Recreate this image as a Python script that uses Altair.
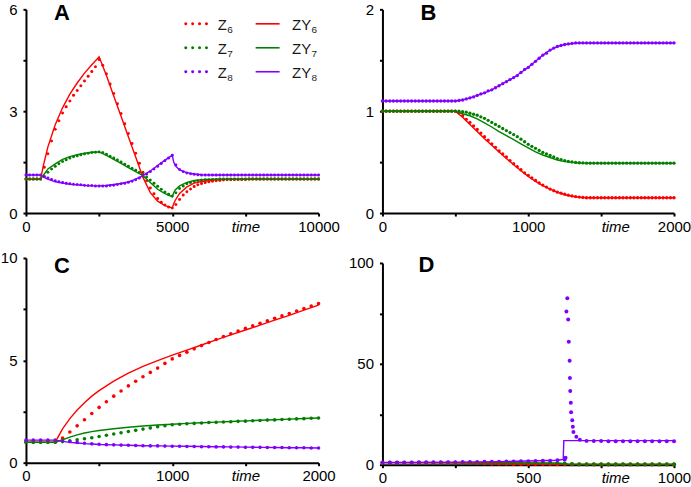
import altair as alt
import pandas as pd

FONT = "Liberation Sans"
NAMES = ["Z6", "Z7", "Z8", "ZY6", "ZY7", "ZY8"]
PALETTE = ["#ff0000", "#008000", "#8000ff", "#ff0000", "#008000", "#8000ff"]

# ---------------- Panel A ----------------
A_T_DOT = [0, 125, 250, 375, 500, 625, 750, 875, 1000, 1125, 1250, 1375, 1500, 1625,
           1750, 1875, 2000, 2125, 2250, 2375, 2500, 2625, 2750, 2875, 3000, 3125, 3250,
           3375, 3500, 3625, 3750, 3875, 4000, 4125, 4250, 4375, 4500, 4625, 4750, 4875,
           5000, 5125, 5250, 5375, 5500, 5625, 5750, 5875, 6000, 6125, 6250, 6375, 6500,
           6625, 6750, 6875, 7000, 7125, 7250, 7375, 7500, 7625, 7750, 7875, 8000, 8125,
           8250, 8375, 8500, 8625, 8750, 8875, 9000, 9125, 9250, 9375, 9500, 9625, 9750,
           9875, 10000]
A_Z6 = [1.0, 1.0, 1.0, 1.0, 1.0,
        1.35, 1.75, 2.12, 2.47, 2.72, 2.95, 3.13, 3.3, 3.47, 3.61, 3.75, 3.89, 4.03, 4.17, 4.31, 4.52,
        4.35, 4.1, 3.8, 3.52, 3.22, 2.93, 2.63, 2.34, 2.05, 1.76, 1.47, 1.2, 0.95, 0.74, 0.57, 0.43,
        0.32, 0.24, 0.18, 0.15,
        0.25, 0.4, 0.53, 0.63, 0.71, 0.78, 0.83, 0.87, 0.9, 0.92, 0.94, 0.95, 0.96, 0.97, 0.98, 0.98,
        0.99, 0.99, 0.99, 0.99,
        1.0, 1.0, 1.0, 1.0, 1.0, 1.0, 1.0, 1.0, 1.0, 1.0, 1.0, 1.0, 1.0, 1.0, 1.0, 1.0, 1.0, 1.0,
        1.0, 1.0]
A_Z7 = [1.0, 1.0, 1.0, 1.0, 1.0,
        1.08, 1.2, 1.3, 1.38, 1.45, 1.52, 1.57, 1.62, 1.66, 1.69, 1.72, 1.74, 1.76, 1.78, 1.79, 1.8,
        1.78, 1.73, 1.67, 1.62, 1.56, 1.5, 1.44, 1.38, 1.32, 1.26, 1.2, 1.14, 1.06, 0.97, 0.88, 0.79,
        0.7, 0.62, 0.55, 0.5,
        0.6, 0.72, 0.8, 0.86, 0.9, 0.93, 0.95, 0.97, 0.98, 0.98, 0.99, 0.99, 1.0, 1.0, 1.0, 1.0,
        1.0, 1.0, 1.0, 1.0,
        1.0, 1.0, 1.0, 1.0, 1.0, 1.0, 1.0, 1.0, 1.0, 1.0, 1.0, 1.0, 1.0, 1.0, 1.0, 1.0, 1.0, 1.0,
        1.0, 1.0]
A_Z8 = [1.12, 1.12, 1.12, 1.12, 1.12,
        1.08, 1.03, 0.99, 0.95, 0.92, 0.9, 0.88, 0.86, 0.85, 0.84, 0.83, 0.82, 0.81, 0.81, 0.8, 0.8,
        0.8, 0.8, 0.81, 0.82, 0.84, 0.86, 0.88, 0.91, 0.94, 0.98, 1.03, 1.08, 1.15, 1.22, 1.3, 1.38,
        1.46, 1.54, 1.62, 1.7,
        1.42, 1.28, 1.22, 1.18, 1.16, 1.14, 1.13, 1.12, 1.12, 1.12, 1.12, 1.12, 1.12, 1.12, 1.12,
        1.12, 1.12, 1.12, 1.12, 1.12,
        1.12, 1.12, 1.12, 1.12, 1.12, 1.12, 1.12, 1.12, 1.12, 1.12, 1.12, 1.12, 1.12, 1.12, 1.12,
        1.12, 1.12, 1.12, 1.12, 1.12]
A_T_LINE = [0, 500, 600, 750, 1000, 1250, 1500, 1750, 2000, 2250, 2500, 2750, 3000, 3250, 3500,
            3750, 4000, 4250, 4500, 4750, 5000, 5050, 5100, 5250, 5500, 5750, 6000, 6500, 7000,
            8000, 10000]
A_ZY6 = [1.0, 1.0, 1.42, 1.95, 2.6, 3.1, 3.5, 3.83, 4.12, 4.37, 4.6, 4.05, 3.45, 2.85, 2.25,
         1.65, 1.05, 0.6, 0.35, 0.22, 0.15, 0.27, 0.37, 0.58, 0.77, 0.88, 0.93, 0.98, 1.0, 1.0, 1.0]
A_ZY7 = [1.0, 1.0, 1.12, 1.3, 1.45, 1.58, 1.66, 1.72, 1.76, 1.79, 1.8, 1.7, 1.58, 1.46, 1.34,
         1.22, 1.1, 0.9, 0.7, 0.57, 0.48, 0.6, 0.68, 0.8, 0.9, 0.96, 0.98, 1.0, 1.0, 1.0, 1.0]
A_ZY8 = [1.12, 1.12, 1.06, 1.0, 0.92, 0.88, 0.85, 0.83, 0.81, 0.8, 0.8, 0.81, 0.84, 0.87, 0.92,
         1.0, 1.1, 1.24, 1.4, 1.56, 1.7, 1.5, 1.4, 1.27, 1.19, 1.15, 1.13, 1.12, 1.12, 1.12, 1.12]

# ---------------- Panel B ----------------
B_T_DOT = [0, 25, 50, 75, 100, 125, 150, 175, 200, 225, 250, 275, 300, 325, 350, 375, 400, 425,
           450, 475, 500, 525, 550, 575, 600, 625, 650, 675, 700, 725, 750, 775, 800, 825, 850,
           875, 900, 925, 950, 975, 1000, 1025, 1050, 1075, 1100, 1125, 1150, 1175, 1200, 1225,
           1250, 1275, 1300, 1325, 1350, 1375, 1400, 1425, 1450, 1475, 1500, 1525, 1550, 1575,
           1600, 1625, 1650, 1675, 1700, 1725, 1750, 1775, 1800, 1825, 1850, 1875, 1900, 1925,
           1950, 1975, 2000]
B_Z6 = [1.0, 1.0, 1.0, 1.0, 1.0, 1.0, 1.0, 1.0, 1.0, 1.0, 1.0, 1.0, 1.0, 1.0, 1.0, 1.0, 1.0,
        1.0, 1.0, 1.0, 1.0,
        0.985, 0.955, 0.92, 0.89, 0.855, 0.82, 0.785, 0.75, 0.715, 0.68, 0.645, 0.61, 0.58, 0.55,
        0.515, 0.485, 0.455, 0.425, 0.395, 0.37, 0.345, 0.32, 0.295, 0.275, 0.255, 0.235, 0.22,
        0.205, 0.195, 0.185, 0.175, 0.168, 0.162, 0.157, 0.153,
        0.15, 0.15, 0.15, 0.15, 0.15, 0.15, 0.15, 0.15, 0.15, 0.15, 0.15, 0.15, 0.15, 0.15, 0.15,
        0.15, 0.15, 0.15, 0.15, 0.15, 0.15, 0.15, 0.15, 0.15, 0.15]
B_Z7 = [1.0, 1.0, 1.0, 1.0, 1.0, 1.0, 1.0, 1.0, 1.0, 1.0, 1.0, 1.0, 1.0, 1.0, 1.0, 1.0, 1.0,
        1.0, 1.0, 1.0, 1.0, 1.0,
        0.995, 0.99, 0.98, 0.97, 0.96, 0.945, 0.93, 0.91, 0.89, 0.87, 0.85, 0.83, 0.81, 0.79, 0.77,
        0.75, 0.725, 0.7, 0.675, 0.655, 0.635, 0.615, 0.595, 0.58, 0.565, 0.55, 0.535, 0.525,
        0.515, 0.508, 0.502, 0.497, 0.494, 0.492,
        0.49, 0.49, 0.49, 0.49, 0.49, 0.49, 0.49, 0.49, 0.49, 0.49, 0.49, 0.49, 0.49, 0.49, 0.49,
        0.49, 0.49, 0.49, 0.49, 0.49, 0.49, 0.49, 0.49, 0.49, 0.49]
B_Z8 = [1.1, 1.1, 1.1, 1.1, 1.1, 1.1, 1.1, 1.1, 1.1, 1.1, 1.1, 1.1, 1.1, 1.1, 1.1, 1.1, 1.1,
        1.1, 1.1, 1.1, 1.1,
        1.105, 1.11, 1.12, 1.13, 1.14, 1.155, 1.17, 1.18, 1.2, 1.21, 1.23, 1.25, 1.27, 1.29, 1.31,
        1.33, 1.35, 1.38, 1.41, 1.43, 1.46, 1.49, 1.52, 1.55, 1.57, 1.6, 1.62, 1.635, 1.645,
        1.655, 1.66, 1.665,
        1.67, 1.67, 1.67, 1.67, 1.67, 1.67, 1.67, 1.67, 1.67, 1.67, 1.67, 1.67, 1.67, 1.67, 1.67,
        1.67, 1.67, 1.67, 1.67, 1.67, 1.67, 1.67, 1.67, 1.67, 1.67, 1.67, 1.67, 1.67]
B_T_LINE = [0, 500, 550, 600, 650, 700, 750, 800, 850, 900, 950, 1000, 1050, 1100, 1150, 1200,
            1250, 1300, 1350, 1400, 2000]
B_ZY6 = [1.0, 1.0, 0.94, 0.87, 0.8, 0.73, 0.665, 0.6, 0.535, 0.475, 0.415, 0.36, 0.31, 0.27,
         0.235, 0.205, 0.18, 0.165, 0.155, 0.15, 0.15]
B_ZY7 = [1.0, 1.0, 0.975, 0.955, 0.925, 0.885, 0.845, 0.8, 0.76, 0.72, 0.68, 0.64, 0.6, 0.57,
         0.545, 0.52, 0.505, 0.497, 0.492, 0.49, 0.49]
B_ZY8 = [1.1, 1.1, 1.11, 1.13, 1.155, 1.18, 1.21, 1.25, 1.29, 1.33, 1.38, 1.43, 1.49, 1.55, 1.6,
         1.635, 1.655, 1.665, 1.67, 1.67, 1.67]

# ---------------- Panel C ----------------
C_T_DOT = [0, 50, 100, 150, 200, 250, 300, 350, 400, 450, 500, 550, 600, 650, 700, 750, 800,
           850, 900, 950, 1000, 1050, 1100, 1150, 1200, 1250, 1300, 1350, 1400, 1450, 1500, 1550,
           1600, 1650, 1700, 1750, 1800, 1850, 1900, 1950, 2000]
C_Z6 = [1.0, 1.0, 1.0, 1.0, 1.0,
        1.2, 1.5, 1.8, 2.1, 2.4, 2.7, 2.98, 3.25, 3.5, 3.75, 3.98, 4.2, 4.41, 4.62, 4.85, 5.07,
        5.24, 5.4, 5.56, 5.72, 5.87, 6.02, 6.16, 6.3, 6.43, 6.56, 6.69, 6.81, 6.93, 7.05, 7.17,
        7.29, 7.41, 7.53, 7.65, 7.77]
C_Z7 = [1.0, 1.0, 1.0, 1.0, 1.0,
        1.03, 1.07, 1.12, 1.17, 1.22, 1.28, 1.34, 1.4, 1.46, 1.52, 1.58, 1.64, 1.7, 1.76, 1.81,
        1.85, 1.88, 1.9, 1.92, 1.94, 1.96, 1.97, 1.99, 2.0, 2.02, 2.03, 2.05, 2.06, 2.08, 2.09,
        2.11, 2.12, 2.14, 2.15, 2.17, 2.18]
C_Z8 = [1.1, 1.1, 1.1, 1.1, 1.1,
        1.07, 1.03, 0.99, 0.95, 0.92, 0.9, 0.88, 0.87, 0.86, 0.85, 0.84, 0.83, 0.82, 0.82, 0.81,
        0.8, 0.8, 0.79, 0.79, 0.78, 0.78, 0.77, 0.77, 0.76, 0.76, 0.75, 0.75, 0.75, 0.74, 0.74,
        0.74, 0.73, 0.73, 0.73, 0.72, 0.72]
C_T_LINE = [0, 200, 250, 300, 350, 400, 450, 500, 600, 700, 800, 900, 1000, 1100, 1200, 1300,
            1400, 1500, 1600, 1700, 1800, 1900, 2000]
C_ZY6 = [1.0, 1.0, 1.65, 2.15, 2.57, 2.93, 3.25, 3.52, 3.98, 4.37, 4.7, 4.99, 5.25, 5.5, 5.75,
         6.0, 6.24, 6.48, 6.72, 6.96, 7.2, 7.45, 7.7]
C_ZY7 = [1.0, 1.0, 1.12, 1.25, 1.36, 1.45, 1.52, 1.57, 1.66, 1.73, 1.79, 1.84, 1.88, 1.92, 1.95,
         1.98, 2.01, 2.04, 2.07, 2.1, 2.13, 2.16, 2.18]
C_ZY8 = [1.1, 1.1, 1.04, 0.99, 0.96, 0.93, 0.91, 0.89, 0.87, 0.85, 0.83, 0.82, 0.81, 0.8, 0.79,
         0.78, 0.77, 0.76, 0.75, 0.74, 0.73, 0.73, 0.72]

# ---------------- Panel D ----------------
D_T_DOT = [0, 25, 50, 75, 100, 125, 150, 175, 200, 225, 250, 275, 300, 325, 350, 375, 400, 425,
           450, 475, 500, 525, 550, 575, 600, 625, 650, 675, 700, 725, 750, 775, 800, 825, 850,
           875, 900, 925, 950, 975, 1000]
D_Z6 = [1.0, 1.0, 1.0, 1.0, 1.0, 1.0, 1.0, 1.0, 1.0, 1.0, 1.0,
        0.9, 0.8, 0.7, 0.6, 0.5, 0.45, 0.4, 0.38, 0.36, 0.34, 0.32, 0.3, 0.28, 0.26, 0.24, 0.15,
        0.1, 0.1, 0.1, 0.1, 0.1, 0.1, 0.1, 0.1, 0.1, 0.1, 0.1, 0.1, 0.1, 0.1]
D_Z7 = [1.0, 1.0, 1.0, 1.0, 1.0, 1.0, 1.0, 1.0, 1.0, 1.0, 1.0, 1.0, 1.0, 1.0, 1.0, 1.0, 1.0,
        1.0, 1.0, 1.0, 1.0,
        0.9, 0.8, 0.7, 0.6, 0.5, 0.3,
        0.2, 0.2, 0.2, 0.2, 0.2, 0.2, 0.2, 0.2, 0.2, 0.2, 0.2, 0.2, 0.2, 0.2]
D_T_Z8 = [0, 25, 50, 75, 100, 125, 150, 175, 200, 225, 250, 275, 300, 325, 350, 375, 400, 425,
          450, 475, 500, 525, 550, 575, 600, 625,
          628, 631, 634, 637, 639, 642, 643, 644, 646, 647, 651, 653, 655, 665, 677,
          700, 725, 750, 775, 800, 825, 850, 875, 900, 925, 950, 975, 1000]
D_Z8 = [1.1, 1.1, 1.1, 1.1, 1.1, 1.15, 1.15, 1.2, 1.2, 1.25, 1.25, 1.3, 1.3, 1.35, 1.4, 1.45,
        1.5, 1.55, 1.6, 1.65, 1.7, 1.8, 1.9, 2.0, 2.2, 2.5,
        3.4, 76.0, 82.5, 72.0, 61.0, 51.5, 43.0, 36.5, 30.7, 26.0, 22.0, 18.8, 16.2, 13.9, 12.3,
        11.8, 11.7, 11.7, 11.6, 11.6, 11.6, 11.6, 11.6, 11.6, 11.6, 11.6, 11.6, 11.6]
D_T_LINE = [0, 250, 400, 600, 620, 622, 640, 700, 1000]
D_ZY6 = [1.0, 0.8, 0.5, 0.35, 0.3, 0.3, 0.15, 0.1, 0.1]
D_ZY7 = [1.0, 1.0, 1.0, 0.8, 0.6, 0.6, 0.3, 0.2, 0.2]
D_ZY8 = [1.1, 1.25, 1.5, 2.2, 2.6, 11.9, 11.9, 11.9, 11.9]

ONE_ROW = pd.DataFrame({"k": [0]})
COLOR_SCALE = alt.Scale(domain=NAMES, range=PALETTE)


def frame(parts):
    return pd.concat(
        [pd.DataFrame({"t": t, "v": v, "s": name}) for name, t, v in parts],
        ignore_index=True,
    )


def label_text(txt, x, y, size, weight="normal", color="black", align="left"):
    return alt.Chart(ONE_ROW).mark_text(
        text=txt, font=FONT, fontSize=size, fontWeight=weight, color=color,
        align=align, baseline="alphabetic",
    ).encode(x=alt.value(x), y=alt.value(y))


def legend_layers():
    layers = []
    y0, dy = 14.5, 24
    for i in range(3):
        dot_name, line_name = NAMES[i], NAMES[i + 3]
        col = PALETTE[i]
        cy = y0 + dy * i
        layers.append(
            alt.Chart(ONE_ROW).mark_rule(
                color=col, strokeWidth=3, strokeCap="round", strokeDash=[0.1, 6.8]
            ).encode(x=alt.value(160), x2=alt.value(182), y=alt.value(cy))
        )
        layers.append(label_text(dot_name[:-1], 192, cy + 6.5, 15, color="#1a1a1a"))
        layers.append(label_text(dot_name[-1], 201.5, cy + 9.5, 10, color="#1a1a1a"))
        layers.append(
            alt.Chart(ONE_ROW).mark_rule(color=col, strokeWidth=1.6).encode(
                x=alt.value(230), x2=alt.value(254), y=alt.value(cy)
            )
        )
        layers.append(label_text(line_name[:-1], 266.5, cy + 6.5, 15, color="#1a1a1a"))
        layers.append(label_text(line_name[-1], 286, cy + 9.5, 10, color="#1a1a1a"))
    return layers


def panel(letter, letter_xy, dots, lines, xdom, xticks, xlabels, time_tick, time_align,
          ydom, yticks, ylabels, dot_size, w, h, y_top=0, legend=False):
    x_expr = (f"datum.value == {time_tick} ? 'time' : "
              f"(indexof({xlabels}, datum.value) >= 0 ? datum.label : '')")
    y_expr = f"indexof({ylabels}, datum.value) >= 0 ? datum.label : ''"
    is_time = f"datum.value == {time_tick}"
    xaxis = alt.Axis(
        values=xticks, format="d", labelExpr=x_expr, title=None, grid=False,
        labelFlush=False, labelOverlap=False, labelPadding=3, tickSize=3,
        labelFontStyle={"condition": {"test": is_time, "value": "italic"}, "value": "normal"},
        labelAlign={"condition": {"test": is_time, "value": time_align}, "value": "center"},
    )
    yaxis = alt.Axis(
        values=yticks, format=".2~f", labelExpr=y_expr, title=None, grid=False,
        labelFlush=False, labelOverlap=False, labelPadding=6, tickSize=3,
    )
    x = alt.X("t:Q", scale=alt.Scale(domain=xdom, nice=False, zero=False), axis=xaxis)
    y = alt.Y("v:Q", scale=alt.Scale(domain=ydom, nice=False, zero=False, range=[h, y_top]),
              axis=yaxis)
    color = alt.Color("s:N", scale=COLOR_SCALE, legend=None)

    dot_layer = alt.Chart(frame(dots)).mark_circle(size=dot_size, opacity=1).encode(
        x=x, y=y, color=color
    )
    line_layer = alt.Chart(frame(lines)).mark_line(strokeWidth=1.4).encode(
        x=x, y=y, color=color, detail="s:N"
    )
    layers = [dot_layer, line_layer,
              label_text(letter, letter_xy[0], letter_xy[1], 22, weight="bold", align="center")]
    if legend:
        layers += legend_layers()
    return alt.layer(*layers).properties(width=w, height=h)


pa = panel(
    "A", (36, 11),
    [("Z6", A_T_DOT, A_Z6), ("Z7", A_T_DOT, A_Z7), ("Z8", A_T_DOT, A_Z8)],
    [("ZY6", A_T_LINE, A_ZY6), ("ZY7", A_T_LINE, A_ZY7), ("ZY8", A_T_LINE, A_ZY8)],
    [0, 10000], [0, 2500, 5000, 7500, 10000], [0, 5000, 10000], 7500, "center",
    [0, 6], [0, 1.5, 3, 4.5, 6], [0, 3, 6], 9, 293, 204, legend=True,
)
pb = panel(
    "B", (46, 11),
    [("Z6", B_T_DOT, B_Z6), ("Z7", B_T_DOT, B_Z7), ("Z8", B_T_DOT, B_Z8)],
    [("ZY6", B_T_LINE, B_ZY6), ("ZY7", B_T_LINE, B_ZY7), ("ZY8", B_T_LINE, B_ZY8)],
    [0, 2000], [0, 500, 1000, 1500, 2000], [0, 1000, 2000], 1500, "left",
    [0, 2], [0, 0.5, 1, 1.5, 2], [0, 1, 2], 11, 292, 204,
)
pc = panel(
    "C", (36, 15),
    [("Z6", C_T_DOT, C_Z6), ("Z7", C_T_DOT, C_Z7), ("Z8", C_T_DOT, C_Z8)],
    [("ZY6", C_T_LINE, C_ZY6), ("ZY7", C_T_LINE, C_ZY7), ("ZY8", C_T_LINE, C_ZY8)],
    [0, 2000], [0, 500, 1000, 1500, 2000], [0, 1000, 2000], 1500, "center",
    [0, 10], [0, 2.5, 5, 7.5, 10], [0, 5, 10], 13, 293, 205,
)
pd_ = panel(
    "D", (44, 14),
    [("Z6", D_T_DOT, D_Z6), ("Z7", D_T_DOT, D_Z7), ("Z8", D_T_Z8, D_Z8)],
    [("ZY6", D_T_LINE, D_ZY6), ("ZY7", D_T_LINE, D_ZY7), ("ZY8", D_T_LINE, D_ZY8)],
    [0, 1000], [0, 250, 500, 750, 1000], [0, 500, 1000], 750, "left",
    [0, 100], [0, 25, 50, 75, 100], [0, 50, 100], 16, 292, 207, y_top=5,
)

chart = (
    alt.concat(pa, pb, pc, pd_, columns=2, spacing={"row": 45, "column": 64}, bounds="flush")
    .properties(padding={"left": 0, "top": 2, "right": 0, "bottom": 0})
    .configure_view(stroke=None)
    .configure_axis(
        domainColor="black", domainWidth=2, tickColor="black", tickWidth=2,
        labelColor="black", labelFont=FONT, labelFontSize=15,
    )
)

chart.save("out.html", embed_options={"renderer": "svg", "actions": False})
